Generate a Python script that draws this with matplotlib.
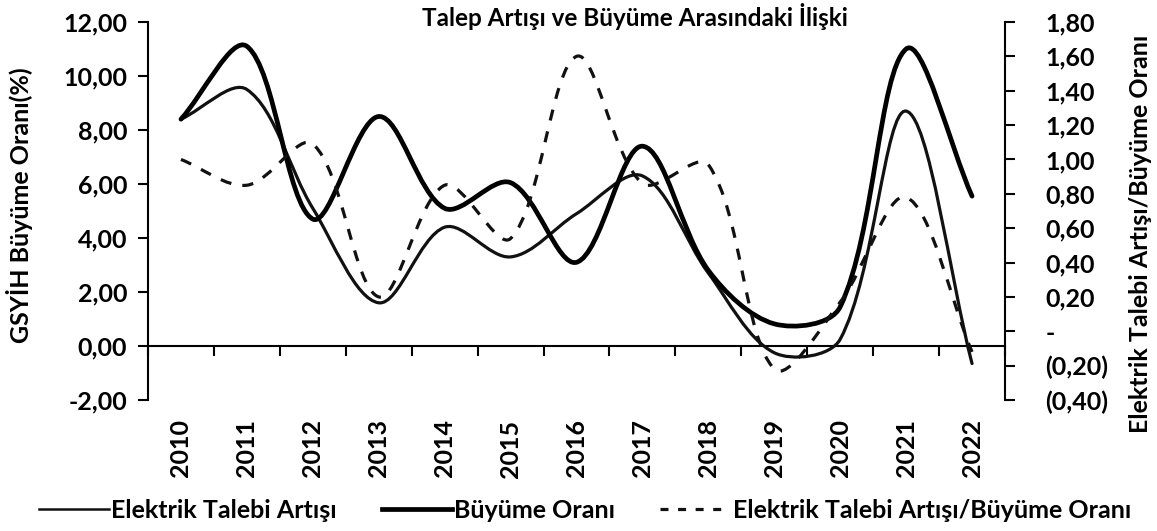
import numpy as np
import matplotlib
matplotlib.use('Agg')
import matplotlib.pyplot as plt
from matplotlib.path import Path
from matplotlib.patches import PathPatch
from matplotlib.lines import Line2D
from matplotlib.ticker import FuncFormatter

plt.rcParams['font.family'] = ['Lato', 'DejaVu Sans']

# data
years = ['2010', '2011', '2012', '2013', '2014', '2015', '2016',
         '2017', '2018', '2019', '2020', '2021', '2022']
talep_artisi = [8.4, 9.5, 5.1, 1.6, 4.4, 3.3, 4.9, 6.3, 2.7, -0.25, 0.25, 8.7, -0.65]
buyume_orani = [8.4, 11.1, 4.7, 8.5, 5.1, 6.05, 3.1, 7.4, 2.8, 0.82, 1.45, 11.0, 5.55]
talep_buyume = [1.0, 0.85, 1.09, 0.2, 0.85, 0.54, 1.6, 0.86, 0.97, -0.22, 0.17, 0.78, -0.12]

title = 'Talep Artışı ve Büyüme Arasındaki İlişki'
left_label = 'GSYİH Büyüme Oranı(%)'
right_label = 'Elektrik Talebi Artışı/Büyüme Oranı'
legend_labels = ['Elektrik Talebi Artışı', 'Büyüme Oranı',
                 'Elektrik Talebi Artışı/Büyüme Oranı']


def smooth_path(a, x, y):
    # excel-like smoothed line: cubic bezier, tangents split by the
    # on-screen length of the neighbouring segments
    data = np.column_stack([np.asarray(x, float), np.asarray(y, float)])
    scr = a.transData.transform(data)
    n = len(data)
    d = np.hypot(*np.diff(scr, axis=0).T)
    out_c, in_c = [], []
    for i in range(n):
        p_prev = data[max(i - 1, 0)]
        p_next = data[min(i + 1, n - 1)]
        t = p_next - p_prev
        dl = d[i - 1] if i > 0 else 0.0
        dr = d[i] if i < n - 1 else 0.0
        s = dl + dr
        out_c.append(data[i] + t * (dr / s) / 3.0)
        in_c.append(data[i] - t * (dl / s) / 3.0)
    verts = [data[0]]
    codes = [Path.MOVETO]
    for i in range(n - 1):
        verts += [out_c[i], in_c[i + 1], data[i + 1]]
        codes += [Path.CURVE4] * 3
    return Path(verts, codes)


def left_fmt(v, pos):
    return f'{v:.2f}'.replace('.', ',')


def right_fmt(v, pos):
    if abs(v) < 1e-9:
        return '-'
    s = f'{abs(v):.2f}'.replace('.', ',')
    return f'({s})' if v < 0 else s


fs = 18
fig = plt.figure(figsize=(11.57, 5.31), dpi=100)
ax = fig.add_axes([148 / 1157, 1 - 400 / 531, 857 / 1157, 378 / 531])
ax2 = ax.twinx()

xs = np.arange(len(years))
ax.set_xlim(-0.5, len(years) - 0.5)
ax.set_ylim(-2, 12)
ax2.set_ylim(-0.4, 1.8)

ax.add_patch(PathPatch(smooth_path(ax, xs, talep_artisi), fill=False,
                       edgecolor='#111111', lw=2.3, capstyle='round'))
ax.add_patch(PathPatch(smooth_path(ax, xs, buyume_orani), fill=False,
                       edgecolor='#000000', lw=3.4, capstyle='round'))
ax2.add_patch(PathPatch(smooth_path(ax2, xs, talep_buyume), fill=False,
                        edgecolor='#111111', lw=2.3, linestyle=(0, (3.5, 3.5))))

ax.set_yticks(np.arange(-2, 12.1, 2))
ax.yaxis.set_major_formatter(FuncFormatter(left_fmt))
ax2.set_yticks(np.arange(-0.4, 1.81, 0.2))
ax2.yaxis.set_major_formatter(FuncFormatter(right_fmt))

for a in (ax, ax2):
    a.spines['top'].set_visible(False)
    a.spines['bottom'].set_visible(False)
ax.spines['right'].set_visible(False)
ax2.spines['left'].set_visible(False)
ax.spines['left'].set_linewidth(1.5)
ax2.spines['right'].set_linewidth(1.5)

ax.tick_params(axis='y', direction='out', length=7, width=1.5, labelsize=fs, pad=8)
ax2.tick_params(axis='y', direction='out', length=7, width=1.5, labelsize=fs, pad=22)
for lab in ax.get_yticklabels() + ax2.get_yticklabels():
    lab.set_fontweight('bold')

# year labels at the bottom, tick marks on the zero line
ax.set_xticks(xs)
ax.set_xticklabels(years, rotation=90, fontsize=fs, fontweight='bold')
ax.tick_params(axis='x', length=0, pad=14)

zero_axis = ax.secondary_xaxis(2 / 14)
zero_axis.set_xticks(np.arange(-0.5, len(years), 1.0))
zero_axis.set_xticklabels([])
zero_axis.tick_params(axis='x', direction='out', length=7, width=1.5)
zero_axis.spines['bottom'].set_linewidth(1.5)

fig.text(635 / 1157, 1 - 3 / 531, title, ha='center', va='top',
         fontsize=17.5, fontweight='bold')
fig.text(20 / 1157, 1 - 205 / 531, left_label, rotation=90, ha='center',
         va='center', fontsize=fs, fontweight='bold')
fig.text(1140 / 1157, 1 - 234 / 531, right_label, rotation=90, ha='center',
         va='center', fontsize=fs, fontweight='bold')

handles = [Line2D([], [], color='#111111', lw=1.8),
           Line2D([], [], color='#000000', lw=3.4),
           Line2D([], [], color='#111111', lw=2.3, linestyle=(0, (2.5, 3)))]
fig.legend(handles, legend_labels, loc='center', bbox_to_anchor=(585 / 1157, 1 - 510 / 531),
           ncol=3, frameon=False, fontsize=fs, handlelength=2.8,
           handletextpad=0.1, columnspacing=1.8, borderaxespad=0,
           prop={'weight': 'bold', 'size': fs})

fig.savefig('out.png', dpi=100)
